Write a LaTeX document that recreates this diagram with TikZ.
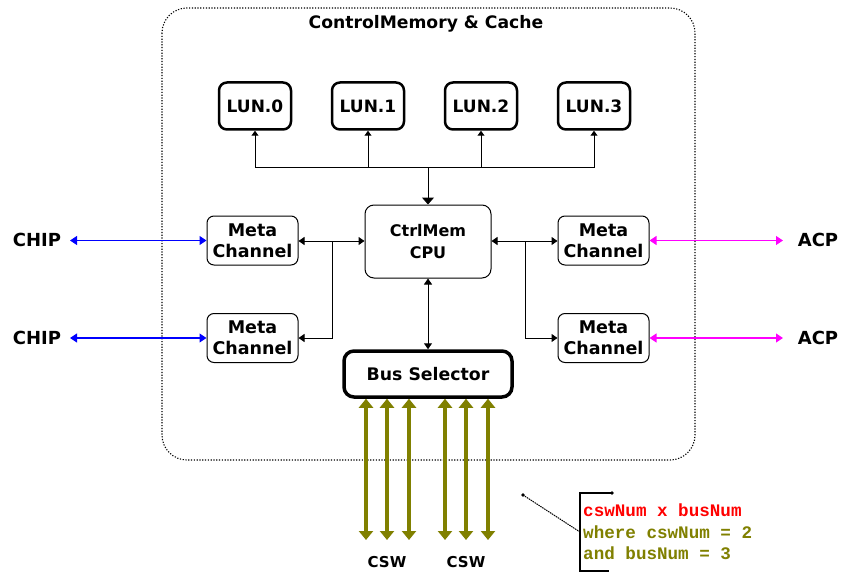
\documentclass[tikz,border=0pt]{standalone}
\usepackage{fontspec}
\setmainfont{DejaVu Sans}
\newfontfamily\annofont{Liberation Mono}
\usetikzlibrary{arrows.meta}
\definecolor{olivec}{RGB}{128,128,0}
\definecolor{magc}{RGB}{255,0,255}
\tikzset{
  lbl/.style={font=\fontsize{18}{20}\selectfont\bfseries, inner sep=2pt},
  ttl/.style={font=\fontsize{17.2}{20}\selectfont\bfseries, inner sep=2pt},
  lunbox/.style={draw, line width=2.5pt, rounded corners=8pt, minimum width=72pt, minimum height=47pt, font=\fontsize{17}{18}\selectfont\bfseries},
  metabox/.style={draw, line width=1pt, rounded corners=7pt, minimum width=91pt, minimum height=49pt, align=center, font=\fontsize{17.5}{21}\selectfont\bfseries},
  cpubox/.style={draw, line width=1pt, rounded corners=9pt, minimum width=126pt, minimum height=73pt, align=center, font=\fontsize{16}{21.5}\selectfont\bfseries},
  busbox/.style={draw, line width=3.5pt, rounded corners=10pt, minimum width=168pt, minimum height=46pt, font=\fontsize{17.3}{18}\selectfont\bfseries},
  blk/.style={line width=1pt, -{Triangle[length=6pt,width=8pt]}},
  blk2/.style={line width=1pt, {Triangle[length=6pt,width=8pt]}-{Triangle[length=6pt,width=8pt]}},
  chipline/.style={line width=1.2pt, blue, {Triangle[length=7pt,width=9pt]}-{Triangle[length=7pt,width=9pt]}},
  acpline/.style={line width=1.2pt, magc, {Triangle[length=7pt,width=9pt]}-{Triangle[length=7pt,width=9pt]}},
  cswline/.style={line width=3.5pt, olivec, {Triangle[length=9pt,width=14pt]}-{Triangle[length=9pt,width=14pt]}},
  cswlbl/.style={font=\fontsize{15}{16}\selectfont\bfseries},
  anno/.style={font=\fontsize{17.6}{21.5}\selectfont\annofont\bfseries, anchor=west, inner sep=0pt, align=left}
}
\begin{document}
\begin{tikzpicture}[x=1pt,y=-1pt]
\useasboundingbox[fill=white] (0,0) rectangle (841,575);
% outer container
\draw[line width=1.1pt, dash pattern=on 1.2pt off 1.6pt, rounded corners=25pt] (162,8) rectangle (695,460);
\node[ttl] (title) at (426,24) {ControlMemory \& Cache};
% LUNs
\node[lunbox] (lun0) at (255,106) {LUN.0};
\node[lunbox] (lun1) at (368,106) {LUN.1};
\node[lunbox] (lun2) at (481,106) {LUN.2};
\node[lunbox] (lun3) at (594,106) {LUN.3};
% CPU
\node[cpubox] (cpu) at (428,241.5) {CtrlMem\\CPU};
% meta channels
\node[metabox] (ml1) at (252.5,240.5) {Meta\\Channel};
\node[metabox] (ml2) at (252.5,338) {Meta\\Channel};
\node[metabox] (mr1) at (603.5,240.5) {Meta\\Channel};
\node[metabox] (mr2) at (603.5,338) {Meta\\Channel};
% bus selector
\node[busbox] (bus) at (428,374) {Bus Selector};
% LUN bus
\coordinate (lb) at (428,168);
\draw[line width=1pt] (lun0.south |- lb) -- (lun3.south |- lb);
\foreach \l in {lun0,lun1,lun2,lun3}{
  \draw[line width=1pt, -{Triangle[length=5pt,width=7pt]}] (\l.south |- lb) -- (\l.south);
}
\draw[line width=1pt, -{Triangle[length=7pt,width=12pt]}] (lb) -- (cpu.north);
% CPU to meta channels
\coordinate (jl) at (332,241);
\coordinate (jr) at (525,241);
\draw[blk2] (ml1.east |- jl) -- (cpu.west |- jl);
\draw[blk] (jl) |- (ml2.east);
\draw[blk2] (cpu.east |- jr) -- (mr1.west |- jr);
\draw[blk] (jr) |- (mr2.west);
% CPU to bus selector
\draw[blk2] (cpu.south) -- (bus.north);
% CHIP and ACP
\node[lbl] (chip1) at (37,240) {CHIP};
\node[lbl] (chip2) at (37,338) {CHIP};
\node[lbl] (acp1) at (818,240) {ACP};
\node[lbl] (acp2) at (818,338) {ACP};
\coordinate (ce1) at (70,240.5);
\coordinate (ce2) at (70,338);
\coordinate (ae1) at (783,240.5);
\coordinate (ae2) at (783,338);
\draw[chipline] (ce1) -- (ml1.west);
\draw[chipline] (ce2) -- (ml2.west);
\draw[acpline] (mr1.east) -- (ae1);
\draw[acpline] (mr2.east) -- (ae2);
% CSW lines
\foreach \x [count=\i] in {366,387,409,445,466,488}{
  \coordinate (cs\i) at (\x,540);
  \draw[cswline] (cs\i |- bus.south) -- (cs\i);
}
\node[cswlbl] (csw1) at (387,562) {CSW};
\node[cswlbl] (csw2) at (466,562) {CSW};
% annotation
\coordinate (ad) at (523,495);
\coordinate (ab) at (580,532);
\fill (ad) circle (1.8pt);
\draw[line width=1pt, dash pattern=on 1.5pt off 0.8pt] (ad) -- (ab);
\coordinate (bt) at (612,493);
\coordinate (bb) at (609,571);
\draw[line width=1.3pt] (bt) -| (580,571) -- (bb);
\fill (bt) circle (1.8pt);
\node[anno, text=red] (a1) at (583,510) {cswNum x busNum};
\node[anno, text=olivec] (a2) at (583,532) {where cswNum = 2};
\node[anno, text=olivec] (a3) at (583,553) {and busNum = 3};
\end{tikzpicture}
\end{document}
